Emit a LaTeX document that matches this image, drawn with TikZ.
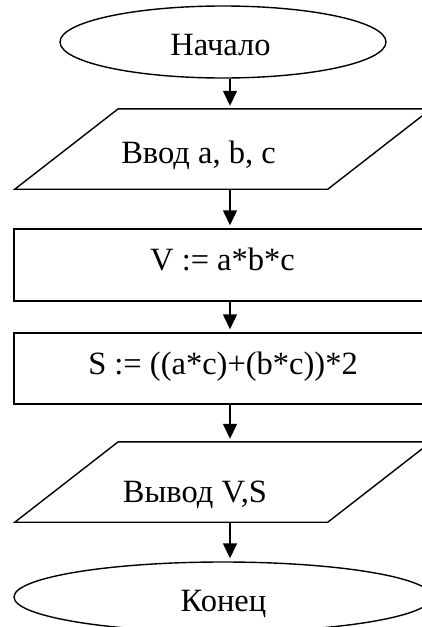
\documentclass[tikz,border=0pt]{standalone}
\usepackage{fontspec}
\setmainfont{Liberation Serif}
\usetikzlibrary{shapes.geometric,arrows.meta}
\begin{document}
\begin{tikzpicture}[x=1pt,y=-1pt,
  term/.style={ellipse,draw=black,line width=1.4pt,inner sep=0pt},
  procbox/.style={rectangle,draw=black,line width=1.4pt,inner sep=0pt,minimum width=418pt},
  iobox/.style={rectangle,inner sep=0pt,minimum width=416pt,minimum height=80pt},
  outline/.style={draw=black,line width=1.4pt,line join=miter},
  txt/.style={anchor=base,inner sep=0pt,font=\fontsize{32.5}{38}\selectfont},
  arr/.style={-{Triangle[length=15pt,width=14pt]},line width=1.4pt,shorten >=3pt}
]
\useasboundingbox (0,0) rectangle (422,627);
\clip (0,0) rectangle (422,627);
\coordinate (ax) at (230,0);

% shapes
\node[term,minimum width=326pt,minimum height=72pt] (start) at (223,42) {};
\node[iobox] (in) at (223,149) {};
\draw[outline] (in.south west) -- ++(313,0) -- (in.north east) -- ++(-313,0) -- cycle;
\node[procbox,minimum height=72pt] (calcv) at (223,265) {};
\node[procbox,minimum height=71pt] (calcs) at (223,368.5) {};
\node[iobox] (out) at (223,482) {};
\draw[outline] (out.south west) -- ++(313,0) -- (out.north east) -- ++(-313,0) -- cycle;
\node[term,minimum width=418pt,minimum height=70pt] (stop) at (223,597) {};

% texts
\node[txt] (tstart) at (220.5,55) {Начало};
\node[txt] (tin) at (198.5,163) {Ввод a, b, c};
\node[txt] (tv) at (222.5,270) {V := a*b*c};
\node[txt] (ts) at (223,374) {S := ((a*c)+(b*c))*2};
\node[txt] (tout) at (195,502) {Вывод V,S};
\node[txt] (tstop) at (223.5,611) {Конец};

% connectors
\draw[arr] (start.south -| ax) -- (in.north -| ax);
\draw[arr] (in.south -| ax) -- (calcv.north -| ax);
\draw[arr] (calcv.south -| ax) -- (calcs.north -| ax);
\draw[arr] (calcs.south -| ax) -- (out.north -| ax);
\draw[arr] (out.south -| ax) -- (stop.north -| ax);
\end{tikzpicture}
\end{document}
